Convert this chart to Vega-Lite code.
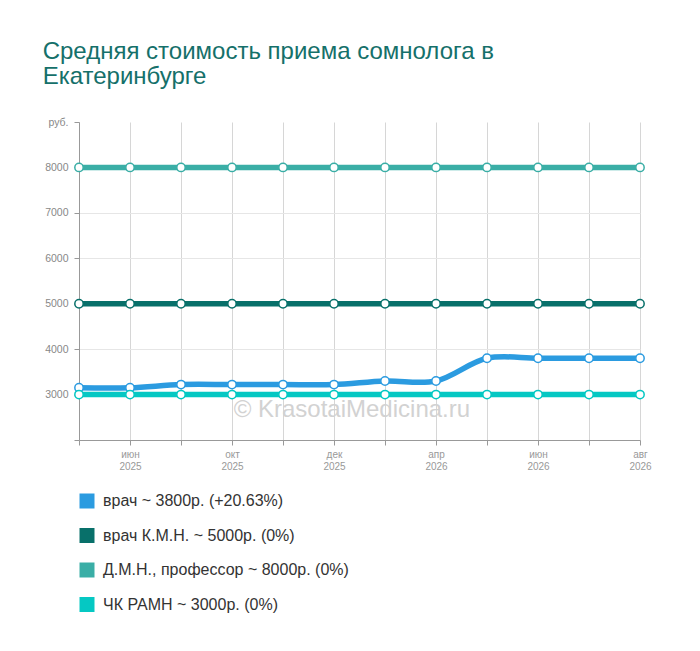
{
  "$schema": "https://vega.github.io/schema/vega-lite/v6.json",
  "width": 561,
  "height": 318,
  "padding": {"left": 42, "top": 40, "right": 20, "bottom": 10},
  "background": "white",
  "config": {
    "font": "Liberation Sans",
    "view": {"stroke": null}
  },
  "title": {
    "text": ["Средняя стоимость приема сомнолога в", "Екатеринбурге"],
    "anchor": "start",
    "dx": -2,
    "fontSize": 24,
    "fontWeight": "normal",
    "lineHeight": 25,
    "color": "#15706a",
    "offset": 28
  },
  "datasets": {
    "prices": [
      {"i": 0, "series": "врач ~ 3800р. (+20.63%)", "price": 3150},
      {"i": 1, "series": "врач ~ 3800р. (+20.63%)", "price": 3150},
      {"i": 2, "series": "врач ~ 3800р. (+20.63%)", "price": 3220},
      {"i": 3, "series": "врач ~ 3800р. (+20.63%)", "price": 3220},
      {"i": 4, "series": "врач ~ 3800р. (+20.63%)", "price": 3220},
      {"i": 5, "series": "врач ~ 3800р. (+20.63%)", "price": 3220},
      {"i": 6, "series": "врач ~ 3800р. (+20.63%)", "price": 3300},
      {"i": 7, "series": "врач ~ 3800р. (+20.63%)", "price": 3300},
      {"i": 8, "series": "врач ~ 3800р. (+20.63%)", "price": 3800},
      {"i": 9, "series": "врач ~ 3800р. (+20.63%)", "price": 3800},
      {"i": 10, "series": "врач ~ 3800р. (+20.63%)", "price": 3800},
      {"i": 11, "series": "врач ~ 3800р. (+20.63%)", "price": 3800},
      {"i": 0, "series": "врач К.М.Н. ~ 5000р. (0%)", "price": 5000},
      {"i": 1, "series": "врач К.М.Н. ~ 5000р. (0%)", "price": 5000},
      {"i": 2, "series": "врач К.М.Н. ~ 5000р. (0%)", "price": 5000},
      {"i": 3, "series": "врач К.М.Н. ~ 5000р. (0%)", "price": 5000},
      {"i": 4, "series": "врач К.М.Н. ~ 5000р. (0%)", "price": 5000},
      {"i": 5, "series": "врач К.М.Н. ~ 5000р. (0%)", "price": 5000},
      {"i": 6, "series": "врач К.М.Н. ~ 5000р. (0%)", "price": 5000},
      {"i": 7, "series": "врач К.М.Н. ~ 5000р. (0%)", "price": 5000},
      {"i": 8, "series": "врач К.М.Н. ~ 5000р. (0%)", "price": 5000},
      {"i": 9, "series": "врач К.М.Н. ~ 5000р. (0%)", "price": 5000},
      {"i": 10, "series": "врач К.М.Н. ~ 5000р. (0%)", "price": 5000},
      {"i": 11, "series": "врач К.М.Н. ~ 5000р. (0%)", "price": 5000},
      {"i": 0, "series": "Д.М.Н., профессор ~ 8000р. (0%)", "price": 8000},
      {"i": 1, "series": "Д.М.Н., профессор ~ 8000р. (0%)", "price": 8000},
      {"i": 2, "series": "Д.М.Н., профессор ~ 8000р. (0%)", "price": 8000},
      {"i": 3, "series": "Д.М.Н., профессор ~ 8000р. (0%)", "price": 8000},
      {"i": 4, "series": "Д.М.Н., профессор ~ 8000р. (0%)", "price": 8000},
      {"i": 5, "series": "Д.М.Н., профессор ~ 8000р. (0%)", "price": 8000},
      {"i": 6, "series": "Д.М.Н., профессор ~ 8000р. (0%)", "price": 8000},
      {"i": 7, "series": "Д.М.Н., профессор ~ 8000р. (0%)", "price": 8000},
      {"i": 8, "series": "Д.М.Н., профессор ~ 8000р. (0%)", "price": 8000},
      {"i": 9, "series": "Д.М.Н., профессор ~ 8000р. (0%)", "price": 8000},
      {"i": 10, "series": "Д.М.Н., профессор ~ 8000р. (0%)", "price": 8000},
      {"i": 11, "series": "Д.М.Н., профессор ~ 8000р. (0%)", "price": 8000},
      {"i": 0, "series": "ЧК РАМН ~ 3000р. (0%)", "price": 3000},
      {"i": 1, "series": "ЧК РАМН ~ 3000р. (0%)", "price": 3000},
      {"i": 2, "series": "ЧК РАМН ~ 3000р. (0%)", "price": 3000},
      {"i": 3, "series": "ЧК РАМН ~ 3000р. (0%)", "price": 3000},
      {"i": 4, "series": "ЧК РАМН ~ 3000р. (0%)", "price": 3000},
      {"i": 5, "series": "ЧК РАМН ~ 3000р. (0%)", "price": 3000},
      {"i": 6, "series": "ЧК РАМН ~ 3000р. (0%)", "price": 3000},
      {"i": 7, "series": "ЧК РАМН ~ 3000р. (0%)", "price": 3000},
      {"i": 8, "series": "ЧК РАМН ~ 3000р. (0%)", "price": 3000},
      {"i": 9, "series": "ЧК РАМН ~ 3000р. (0%)", "price": 3000},
      {"i": 10, "series": "ЧК РАМН ~ 3000р. (0%)", "price": 3000},
      {"i": 11, "series": "ЧК РАМН ~ 3000р. (0%)", "price": 3000}
    ],
    "mark": [
      {"i": 5.35, "price": 2500, "label": "© KrasotaiMedicina.ru"}
    ]
  },
  "layer": [
    {
      "data": {"name": "mark"},
      "mark": {"type": "text", "fontSize": 24, "color": "#d2d2d2", "align": "center", "baseline": "alphabetic"},
      "encoding": {
        "x": {"field": "i", "type": "quantitative"},
        "y": {"field": "price", "type": "quantitative"},
        "text": {"field": "label"}
      }
    },
    {
      "data": {"name": "prices"},
      "mark": {"type": "line", "interpolate": "catmull-rom", "strokeWidth": 5.5},
      "encoding": {
        "x": {
          "field": "i",
          "type": "quantitative",
          "scale": {"domain": [0, 11], "nice": false, "zero": false},
          "axis": {
            "title": null,
            "values": [0, 1, 2, 3, 4, 5, 6, 7, 8, 9, 10, 11],
            "labelExpr": "datum.value == 1 ? ['июн', '2025'] : datum.value == 3 ? ['окт', '2025'] : datum.value == 5 ? ['дек', '2025'] : datum.value == 7 ? ['апр', '2026'] : datum.value == 9 ? ['июн', '2026'] : datum.value == 11 ? ['авг', '2026'] : ''",
            "labelFontSize": 10,
            "labelLineHeight": 12,
            "labelColor": "#999999",
            "labelPadding": 4,
            "labelFlush": false,
            "labelOverlap": false,
            "tickSize": 5,
            "tickColor": "#999999",
            "domainColor": "#999999",
            "gridColor": "#d6d6d6"
          }
        },
        "y": {
          "field": "price",
          "type": "quantitative",
          "scale": {"domain": [2000, 9000], "nice": false, "zero": false},
          "axis": {
            "title": null,
            "values": [2000, 3000, 4000, 5000, 6000, 7000, 8000, 9000],
            "labelExpr": "datum.value == 9000 ? 'руб.' : datum.value == 2000 ? '' : datum.value",
            "labelFontSize": 10.5,
            "labelColor": "#888888",
            "labelPadding": 6,
            "tickSize": 5,
            "tickColor": "#999999",
            "domainColor": "#999999",
            "gridColor": {"condition": {"test": "datum.value == 9000", "value": "transparent"}, "value": "#e6e6e6"}
          }
        },
        "color": {
          "field": "series",
          "type": "nominal",
          "sort": null,
          "scale": {
            "domain": ["врач ~ 3800р. (+20.63%)", "врач К.М.Н. ~ 5000р. (0%)", "Д.М.Н., профессор ~ 8000р. (0%)", "ЧК РАМН ~ 3000р. (0%)"],
            "range": ["#2b9be0", "#08706a", "#3aaea6", "#05c8c3"]
          },
          "legend": {
            "title": null,
            "orient": "none",
            "legendX": 0,
            "legendY": 371,
            "direction": "vertical",
            "symbolType": "square",
            "symbolSize": 225,
            "symbolStrokeWidth": 0,
            "labelFontSize": 16,
            "labelColor": "#333333",
            "labelOffset": 8,
            "rowPadding": 18.5,
            "labelLimit": 400,
            "encode": {
              "symbols": {
                "update": {
                  "fill": {"scale": "color", "field": "value"},
                  "stroke": {"value": "transparent"}
                }
              }
            }
          }
        }
      }
    },
    {
      "data": {"name": "prices"},
      "mark": {"type": "point", "filled": true, "fill": "white", "size": 70, "strokeWidth": 1.5, "opacity": 1},
      "encoding": {
        "x": {"field": "i", "type": "quantitative"},
        "y": {"field": "price", "type": "quantitative"},
        "stroke": {"field": "series", "type": "nominal", "scale": {"domain": ["врач ~ 3800р. (+20.63%)", "врач К.М.Н. ~ 5000р. (0%)", "Д.М.Н., профессор ~ 8000р. (0%)", "ЧК РАМН ~ 3000р. (0%)"], "range": ["#2b9be0", "#08706a", "#3aaea6", "#05c8c3"]}, "legend": null}
      }
    }
  ]
}
